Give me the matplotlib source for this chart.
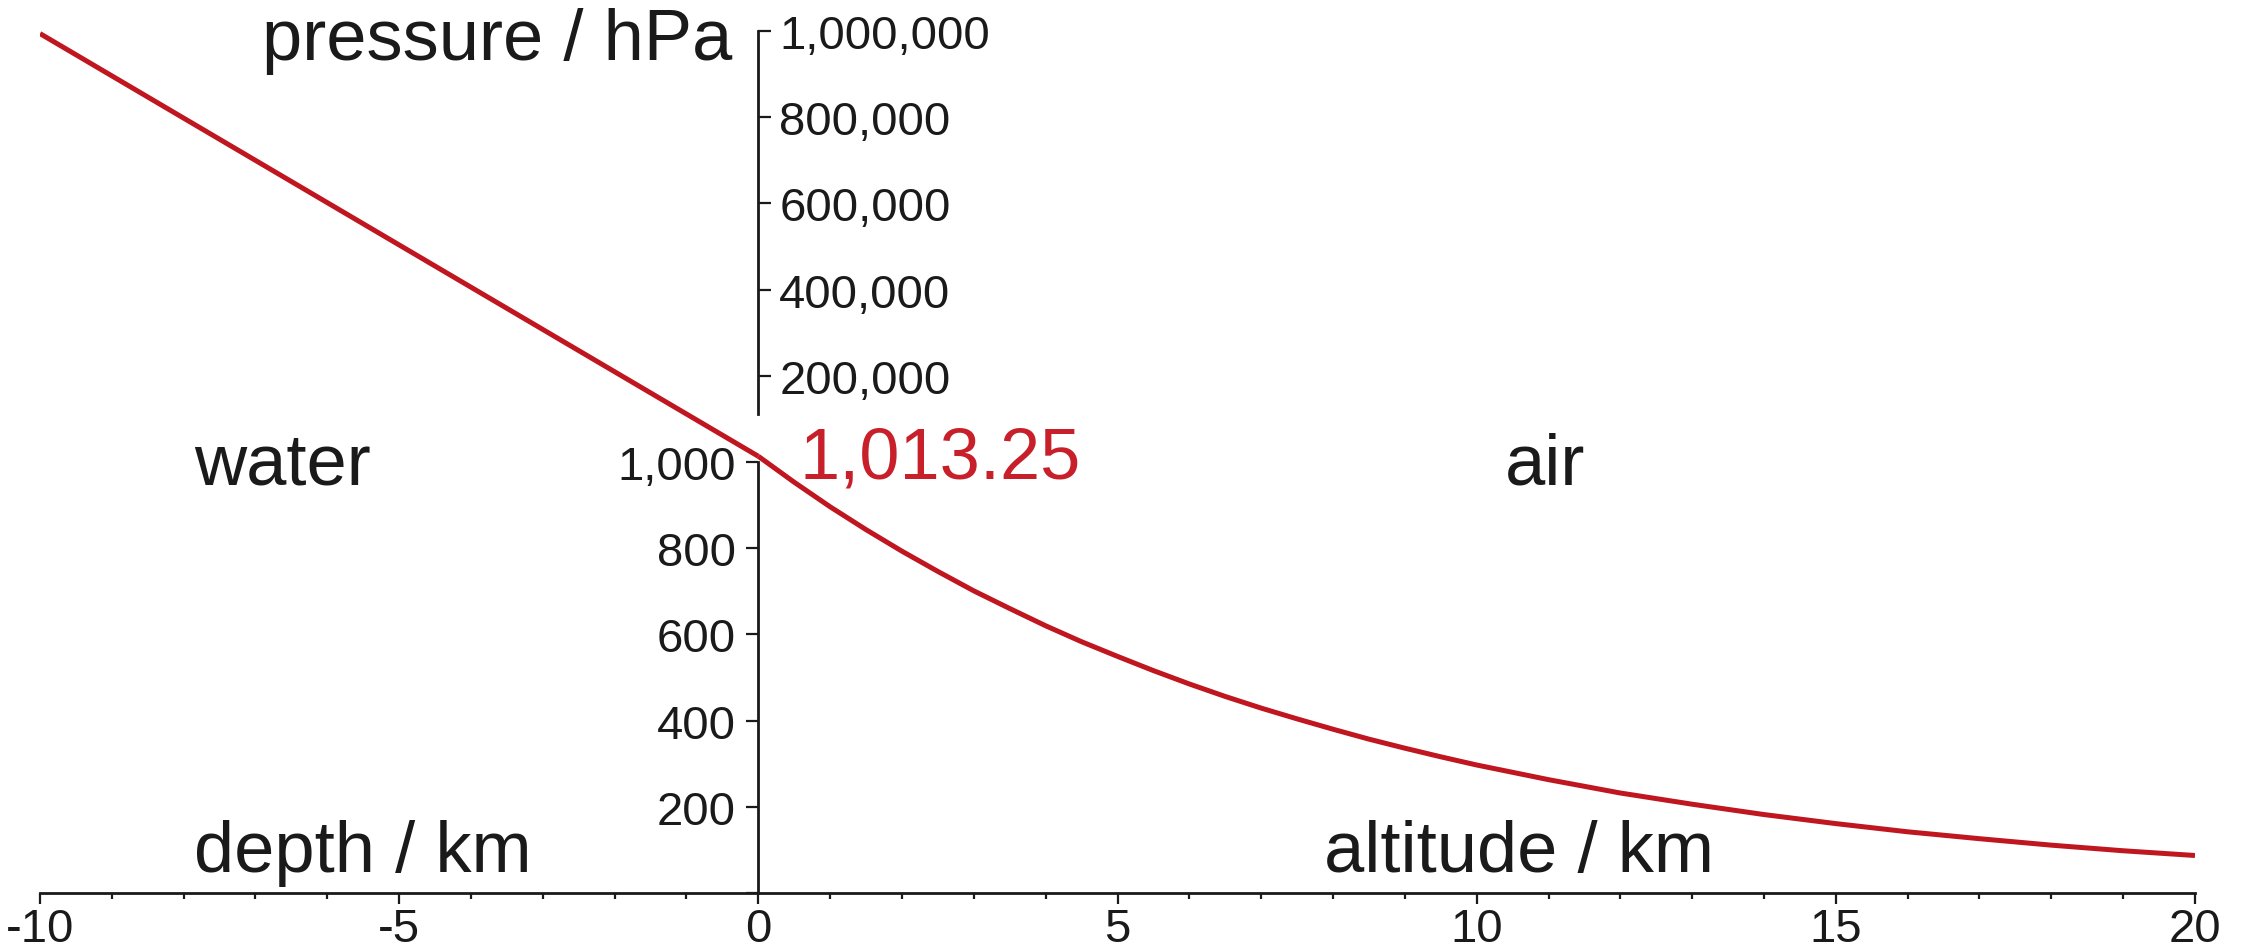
import numpy as np
import matplotlib.pyplot as plt
from matplotlib.ticker import MultipleLocator, FixedLocator, FuncFormatter

plt.rcParams['font.family'] = ['Liberation Sans', 'DejaVu Sans']
plt.rcParams['axes.unicode_minus'] = False

# values
air_alt = [0, 0.5, 1, 1.5, 2, 2.5, 3, 3.5, 4, 4.5, 5, 5.5, 6, 6.5, 7, 7.5,
           8, 8.5, 9, 9.5, 10, 11, 12, 13, 14, 15, 16, 17, 18, 19, 20]   # km
air_p = [1013.25, 953, 896, 843, 793, 746, 701, 660, 620, 583, 549, 516,
         485, 456, 429, 404, 380, 357, 336, 316, 297,
         263, 232, 206, 182, 161, 142, 126, 111, 98, 87]   # hPa, lower scale
water_depth = [-10, -5, 0]            # km (negative = depth)
water_p = [994000, 503600, 13250]     # hPa, upper scale
low_ticks = [0, 200, 400, 600, 800, 1000]
high_ticks = [200000, 400000, 600000, 800000, 1000000]
x_major = [-10, -5, 0, 5, 10, 15, 20]

red = '#bf1620'
ink = '#1a1a1a'
big = 52
small = 34

fig = plt.figure(figsize=(22.51, 9.53), dpi=100)
ylo, yhi = 0, 2030
ax = fig.add_axes([40 / 2251, 59 / 953, 2155 / 2251, yhi * 0.431 / 953])
ax.set_xlim(-10, 20)
ax.set_ylim(ylo, yhi)
# upper scale: 0 hPa sits at the 1,000 mark, 1000x compressed
ax2 = ax.twinx()
ax2.set_ylim((ylo - 1000) * 1000, (yhi - 1000) * 1000)

for s in ['top', 'right']:
    ax.spines[s].set_visible(False)
for s in ['top', 'left', 'bottom']:
    ax2.spines[s].set_visible(False)

ax.spines['left'].set_position(('data', 0))
ax.spines['left'].set_bounds(0, 1000)
ax2.spines['right'].set_position(('data', 0))
ax2.spines['right'].set_bounds(111000, 1000000)
for sp in [ax.spines['left'], ax.spines['bottom'], ax2.spines['right']]:
    sp.set_linewidth(2)
    sp.set_color(ink)

ax.xaxis.set_major_locator(FixedLocator(x_major))
ax.xaxis.set_minor_locator(MultipleLocator(1))
ax.set_xticklabels([str(v) for v in x_major])
ax.tick_params(axis='x', which='major', direction='out', length=8, width=1.6,
               pad=2, labelsize=small, colors=ink)
ax.tick_params(axis='x', which='minor', direction='out', length=4.5, width=1.6,
               colors=ink)

ax.yaxis.set_major_locator(FixedLocator(low_ticks))
ax.yaxis.set_major_formatter(FuncFormatter(lambda v, p: '' if v == 0 else f'{v:,.0f}'))
ax.tick_params(axis='y', which='major', direction='out', length=9, width=1.6,
               pad=7, labelsize=small, colors=ink)

ax2.yaxis.set_ticks_position('right')
ax2.yaxis.set_major_locator(FixedLocator(high_ticks))
ax2.yaxis.set_major_formatter(FuncFormatter(lambda v, p: f'{v:,.0f}'))
ax2.tick_params(axis='y', which='major', direction='out', length=9, width=1.6,
                pad=6, labelsize=small, colors=ink)

ax.plot(air_alt, air_p, color=red, lw=3.6, solid_capstyle='butt',
        solid_joinstyle='round', zorder=5)
ax2.plot(water_depth, water_p, color=red, lw=3.6, solid_capstyle='butt', zorder=5)

ax.text(-0.36, 1935, 'pressure / hPa', ha='right', va='baseline', fontsize=big, color=ink)
ax.text(-7.85, 949, 'water', ha='left', va='baseline', fontsize=big, color=ink)
ax.text(10.39, 949, 'air', ha='left', va='baseline', fontsize=big, color=ink)
ax.text(0.58, 965, '1,013.25', ha='left', va='baseline', fontsize=big, color='#c8202a')
ax.text(-7.85, 51, 'depth / km', ha='left', va='baseline', fontsize=big, color=ink)
ax.text(7.88, 51, 'altitude / km', ha='left', va='baseline', fontsize=big, color=ink)

fig.savefig('out.png', dpi=100)
